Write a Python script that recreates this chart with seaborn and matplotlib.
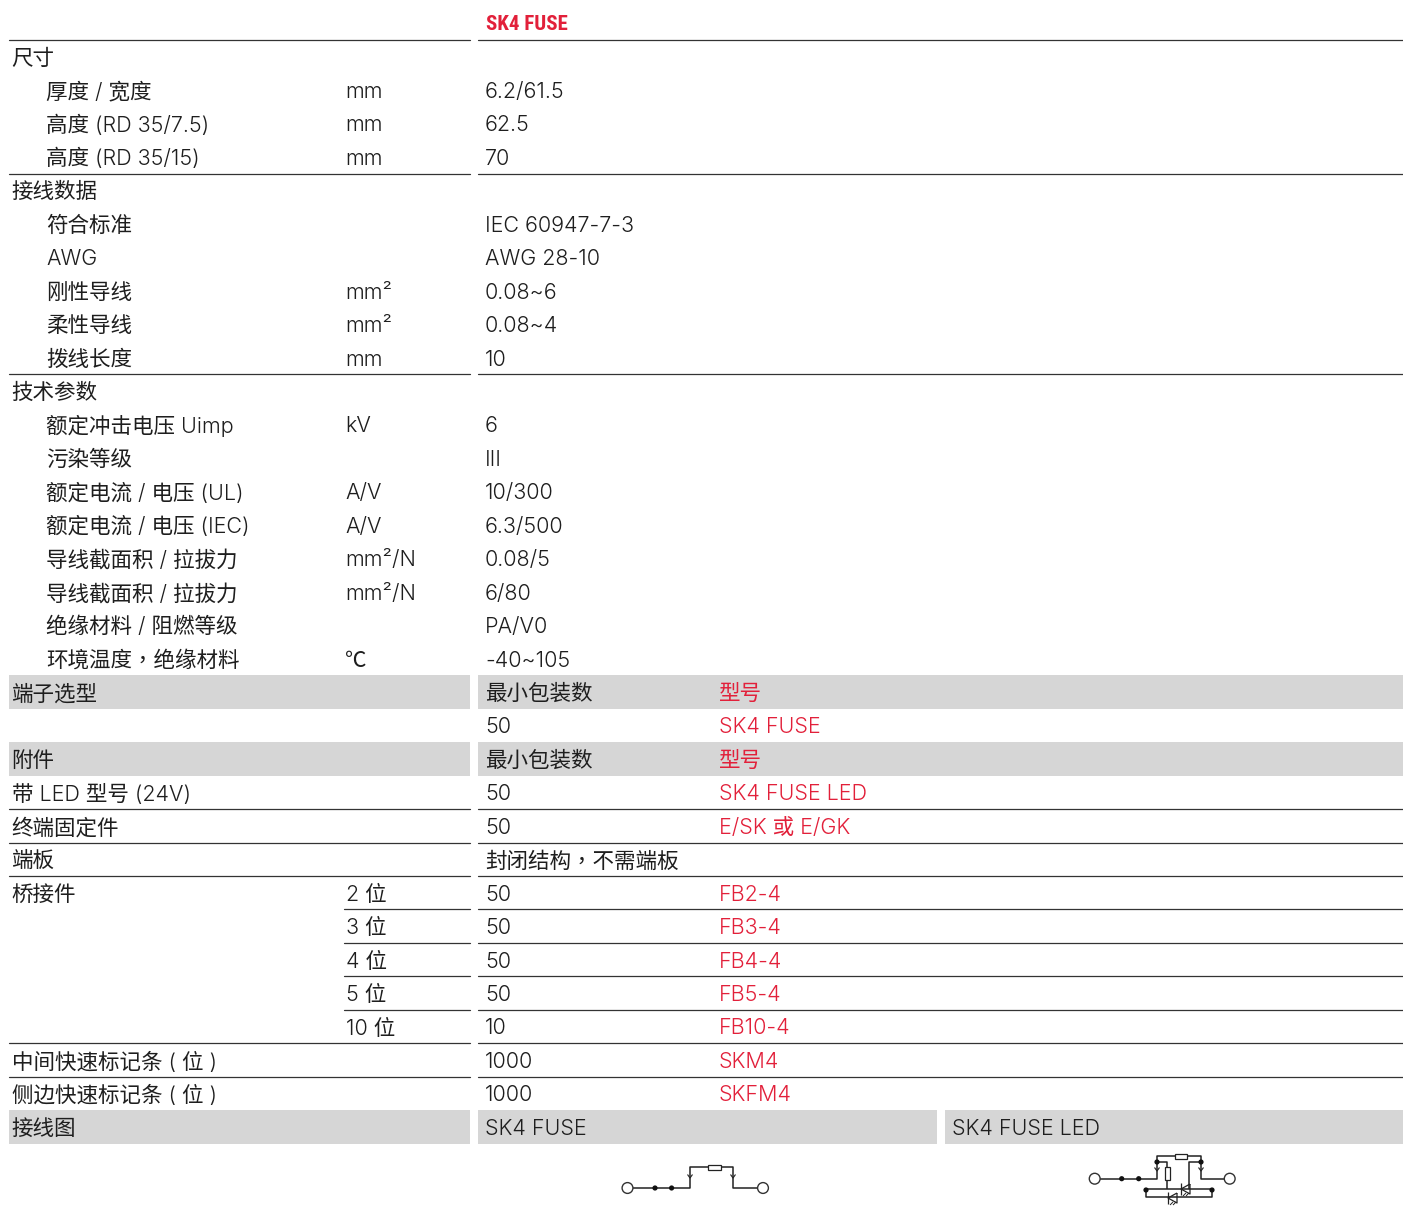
#!/usr/bin/env python3
import pandas as pd
import seaborn as sns
import matplotlib.pyplot as plt
from matplotlib.patches import Circle, Rectangle

# row index -> text, one list per table column
row_h = 33.45
top_y = 24

sub_rows = [2, 3, 4, 6, 7, 8, 9, 10, 12, 13, 14, 15, 16, 17, 18, 19]
sub_labels = ['厚度 / 宽度', '高度 (RD 35/7.5)', '高度 (RD 35/15)', '符合标准', 'AWG', '刚性导线',
              '柔性导线', '拨线长度', '额定冲击电压 Uimp', '污染等级', '额定电流 / 电压 (UL)',
              '额定电流 / 电压 (IEC)', '导线截面积 / 拉拔力', '导线截面积 / 拉拔力',
              '绝缘材料 / 阻燃等级', '环境温度，绝缘材料']
sub_units = ['mm', 'mm', 'mm', '', '', 'mm²', 'mm²', 'mm', 'kV', '', 'A/V', 'A/V',
             'mm²/N', 'mm²/N', '', '℃']
sub_values = ['6.2/61.5', '62.5', '70', 'IEC 60947-7-3', 'AWG 28-10', '0.08~6', '0.08~4', '10',
              '6', 'III', '10/300', '6.3/500', '0.08/5', '6/80', 'PA/V0', '-40~105']

head_rows = [1, 5, 11, 20, 22, 23, 24, 25, 26, 31, 32, 33]
head_labels = ['尺寸', '接线数据', '技术参数', '端子选型', '附件', '带 LED 型号 (24V)', '终端固定件',
               '端板', '桥接件', '中间快速标记条 ( 位 )', '侧边快速标记条 ( 位 )', '接线图']

order_rows = [20, 21, 22, 23, 24, 25, 26, 27, 28, 29, 30, 31, 32]
order_qty = ['最小包装数', '50', '最小包装数', '50', '50', '封闭结构，不需端板', '50', '50', '50', '50',
             '10', '1000', '1000']
order_type = ['型号', 'SK4 FUSE', '型号', 'SK4 FUSE LED', 'E/SK 或 E/GK', '', 'FB2-4', 'FB3-4',
              'FB4-4', 'FB5-4', 'FB10-4', 'SKM4', 'SKFM4']

bridge_rows = [26, 27, 28, 29, 30]
bridge_labels = ['2 位', '3 位', '4 位', '5 位', '10 位']

full_rules = [0, 4, 10, 23, 24, 25, 30, 31]
part_rules = [26, 27, 28, 29]
band_rows = [20, 22, 33]

FONT = ['Inter', 'Noto Sans CJK SC', 'DejaVu Sans']
FONT_TC = ['Inter', 'Noto Sans CJK TC', 'DejaVu Sans']
FONT_SIGN = ['Noto Sans CJK SC', 'DejaVu Sans']
DARK = '#1e1e1e'
RED = '#e2203a'
GREY_BAND = '#d6d6d6'
LEFT, SPLIT_L, SPLIT_R, RIGHT = 9, 470, 478, 1403
X_HEAD, X_SUB, X_UNIT, X_VAL, X_TYPE = 11.5, 46, 345.5, 485, 719


def row_y(i):
    return top_y + row_h * i


def put(ax, x, row, s, color=DARK):
    family = FONT_TC if '，' in s else FONT_SIGN if s == '℃' else FONT
    ax.text(x, row_y(row) + 1, s, color=color, family=family, fontsize=15.5, fontweight=300,
            va='center', ha='left')


def draw_rules(ax):
    # rule table in long form so seaborn draws every segment
    recs = []
    for n, r in enumerate(full_rules):
        y = row_y(r + 0.5) - 1
        recs += [(f'l{n}', LEFT, y), (f'l{n}', SPLIT_L, y), (f'r{n}', SPLIT_R, y), (f'r{n}', RIGHT, y)]
    for n, r in enumerate(part_rules):
        y = row_y(r + 0.5) - 1
        recs += [(f'p{n}', 344, y), (f'p{n}', SPLIT_L, y), (f'q{n}', SPLIT_R, y), (f'q{n}', RIGHT, y)]
    df = pd.DataFrame(recs, columns=['seg', 'x', 'y'])
    sns.lineplot(data=df, x='x', y='y', units='seg', estimator=None, color='#333333',
                 linewidth=0.9, ax=ax, legend=False, sort=False)


def draw_bands(ax):
    for r in band_rows:
        y0 = row_y(r - 0.5) - 1
        ax.add_patch(Rectangle((LEFT, y0), SPLIT_L - LEFT, row_h, fc=GREY_BAND, ec='none'))
        if r == 33:
            ax.add_patch(Rectangle((SPLIT_R, y0), 937 - SPLIT_R, row_h, fc=GREY_BAND, ec='none'))
            ax.add_patch(Rectangle((945, y0), RIGHT - 945, row_h, fc=GREY_BAND, ec='none'))
        else:
            ax.add_patch(Rectangle((SPLIT_R, y0), RIGHT - SPLIT_R, row_h, fc=GREY_BAND, ec='none'))


def wire(ax, xs, ys, lw=1.1):
    ax.plot(xs, ys, color='#222222', lw=lw, solid_capstyle='butt', zorder=3)


def node(ax, x, y):
    ax.add_patch(Circle((x, y), 2.6, fc='#111111', ec='none', zorder=4))


def terminal(ax, x, y):
    ax.add_patch(Circle((x, y), 5.4, fc='white', ec='#333333', lw=1.0, zorder=4))


def arrow(ax, x, y):
    wire(ax, [x - 2.5, x, x + 2.5], [y - 2.5, y + 1, y - 2.5], lw=0.8)


def fuse(ax, x, y, w, h):
    ax.add_patch(Rectangle((x, y), w, h, fc='white', ec='#222222', lw=0.9, zorder=4))


def led(ax, x, y):
    # triangle pointing left, bar on its tip, two small rays
    wire(ax, [x + 5, x - 4, x + 5, x + 5], [y - 5, y, y + 5, y - 5], lw=0.9)
    wire(ax, [x - 4, x - 4], [y - 6, y + 6], lw=0.9)
    wire(ax, [x + 1, x - 2], [y + 4, y + 7], lw=0.7)
    wire(ax, [x + 4, x + 1], [y + 4, y + 7], lw=0.7)


def draw_schematics(ax):
    # plain fuse terminal
    wire(ax, [633, 690, 690, 733, 733, 757], [1188, 1188, 1167, 1167, 1188, 1188])
    fuse(ax, 708, 1165, 13, 5)
    for x in (655, 671.6):
        node(ax, x, 1188)
    terminal(ax, 627.5, 1188)
    terminal(ax, 763, 1188)
    arrow(ax, 690, 1177)
    arrow(ax, 733, 1177)
    # LED variant
    wire(ax, [1100, 1157, 1157, 1201, 1201, 1224], [1178.7, 1178.7, 1156, 1156, 1178.7, 1178.7])
    fuse(ax, 1175, 1154, 12, 4.5)
    wire(ax, [1157, 1167, 1167], [1162, 1162, 1189])
    wire(ax, [1201, 1189, 1189], [1162, 1162, 1189])
    wire(ax, [1146, 1212, 1212, 1146, 1146], [1189, 1189, 1197, 1197, 1189])
    fuse(ax, 1165, 1167, 5, 13)
    for x, y in [(1121.7, 1178.7), (1138.7, 1178.7), (1157, 1162), (1201, 1162), (1146, 1190), (1212, 1190)]:
        node(ax, x, y)
    terminal(ax, 1094.7, 1178.7)
    terminal(ax, 1229.7, 1178.7)
    arrow(ax, 1157, 1170)
    arrow(ax, 1201, 1170)
    led(ax, 1185, 1189)
    led(ax, 1172, 1198)


sns.set_theme(style='white')
fig = plt.figure(figsize=(14.03, 12.09), dpi=100, facecolor='white')
ax = fig.add_axes([0, 0, 1, 1])

draw_bands(ax)
draw_rules(ax)

ax.text(X_VAL + 0.5, row_y(0) + 1, 'SK4 FUSE', color=RED, family=['Roboto Condensed', 'DejaVu Sans'],
        fontsize=15, fontweight='bold', va='center', ha='left')
for r, s in zip(head_rows, head_labels):
    put(ax, X_HEAD, r, s)
for r, a, b, c in zip(sub_rows, sub_labels, sub_units, sub_values):
    put(ax, X_SUB, r, a)
    put(ax, X_UNIT, r, b)
    put(ax, X_VAL, r, c)
for r, a, b in zip(order_rows, order_qty, order_type):
    put(ax, X_VAL, r, a)
    put(ax, X_TYPE, r, b, color=RED)
for r, s in zip(bridge_rows, bridge_labels):
    put(ax, X_UNIT, r, s)
put(ax, X_VAL, 33, 'SK4 FUSE')
put(ax, 952, 33, 'SK4 FUSE LED')

draw_schematics(ax)

ax.set_xlim(0, 1403)
ax.set_ylim(1209, 0)
ax.set_aspect('equal')
ax.axis('off')
fig.savefig('out.png', dpi=100)
